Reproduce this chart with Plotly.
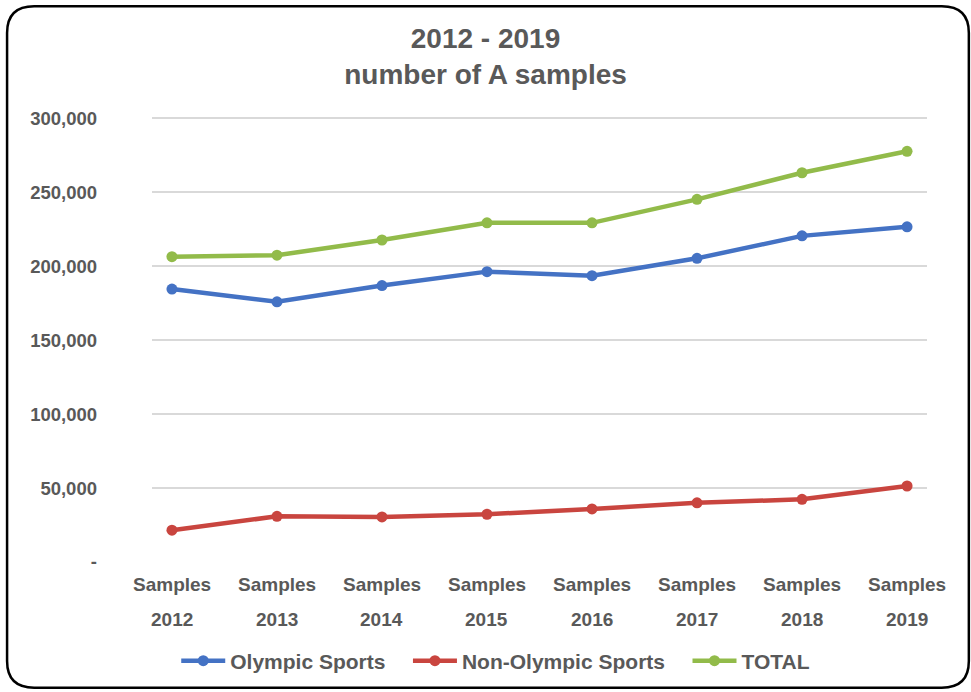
import plotly.graph_objects as go

years = ["2012", "2013", "2014", "2015", "2016", "2017", "2018", "2019"]
categories = ["Samples " + y for y in years]
olympic = [184600, 176000, 187000, 196400, 193700, 205400, 220600, 226700]
non_olympic = [21500, 30900, 30500, 32300, 35900, 40000, 42400, 51400]
total = [206500, 207500, 217800, 229400, 229400, 245300, 263300, 277800]
y_ticks = [0, 50000, 100000, 150000, 200000, 250000, 300000]
y_ticktext = ["-", "50,000", "100,000", "150,000", "200,000", "250,000", "300,000"]

FONT = "Liberation Sans"
GREY = "#595959"

fig = go.Figure()
series = [
    ("Olympic Sports", olympic, "#4472C4"),
    ("Non-Olympic Sports", non_olympic, "#C9453F"),
    ("TOTAL", total, "#92BB4A"),
]
for name, vals, col in series:
    fig.add_trace(go.Scatter(
        x=categories, y=vals, name="<b>" + name + "</b>&nbsp;&nbsp;&nbsp;",
        mode="lines+markers",
        line=dict(color=col, width=4.5),
        marker=dict(color=col, size=11),
    ))

annotations = []
for c, yr in zip(categories, years):
    annotations.append(dict(x=c, y=0, xref="x", yref="paper", text="<b>Samples</b>",
                            showarrow=False, yanchor="middle", yshift=-22,
                            font=dict(family=FONT, size=19, color=GREY)))
    annotations.append(dict(x=c, y=0, xref="x", yref="paper", text="<b>" + yr + "</b>",
                            showarrow=False, yanchor="middle", yshift=-57,
                            font=dict(family=FONT, size=19, color=GREY)))

# rounded border (paper coords)
L, R, T, B = -0.187, 1.054, 1.249, -0.2825
rx, ry = 0.035, 0.06
path = (f"M {L+rx},{T} L {R-rx},{T} Q {R},{T} {R},{T-ry} L {R},{B+ry} Q {R},{B} {R-rx},{B} "
        f"L {L+rx},{B} Q {L},{B} {L},{B+ry} L {L},{T-ry} Q {L},{T} {L+rx},{T} Z")

fig.update_layout(
    width=971, height=692,
    margin=dict(l=152, r=44, t=117, b=129),
    paper_bgcolor="white", plot_bgcolor="white",
    title=dict(text="<b>2012 - 2019<br>number of A samples</b>",
               x=0.5, xanchor="center", y=0.931, yanchor="middle",
               font=dict(family=FONT, size=28, color=GREY)),
    xaxis=dict(type="category", range=[-0.19, 7.19], showticklabels=False,
               showgrid=False, showline=False, zeroline=False, ticks=""),
    yaxis=dict(range=[0, 301000], tickvals=y_ticks,
               ticktext=["<b>" + t + "</b>" for t in y_ticktext],
               showgrid=True, gridcolor="#d9d9d9", gridwidth=1.5,
               zeroline=False, showline=False, ticks="",
               ticklabelstandoff=54,
               tickfont=dict(family=FONT, size=18.5, color=GREY)),
    showlegend=True,
    legend=dict(orientation="h", x=0.4545, xanchor="center", y=-0.2197, yanchor="middle",
                font=dict(family=FONT, size=21, color=GREY), bgcolor="rgba(0,0,0,0)",
                itemwidth=44),
    annotations=annotations,
    shapes=[dict(type="path", path=path, xref="paper", yref="paper",
                 line=dict(color="black", width=2.5), fillcolor="rgba(0,0,0,0)")],
    font=dict(family=FONT),
)
fig.write_html("out.html", config={"displayModeBar": False},
               post_script="document.body.style.margin='0';")
